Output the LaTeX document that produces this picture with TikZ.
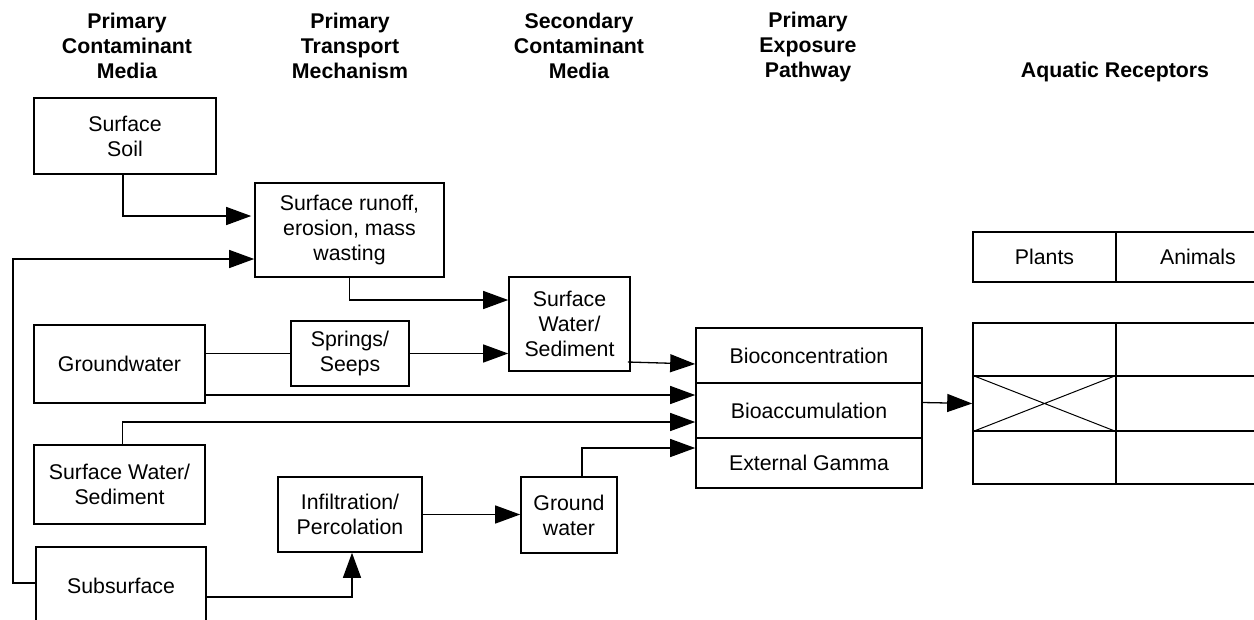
\documentclass[tikz,border=0pt]{standalone}
\usepackage{fontspec}
\setmainfont{Liberation Sans}
\usetikzlibrary{arrows.meta}
\begin{document}
\begin{tikzpicture}[x=1pt,y=-1pt,
  box/.style={draw, line width=1.6pt, align=center, inner sep=0pt,
    font=\fontsize{21.3}{25}\selectfont},
  hdr/.style={align=center, inner sep=0pt, font=\fontsize{21.3}{25}\selectfont\bfseries},
  link/.style={line width=1.3pt},
  arr/.style={link, -{Triangle[length=25pt,width=18pt]}},
  cell/.style={draw, line width=1.6pt, inner sep=0pt}]
\useasboundingbox (0,0) rectangle (1254,619);
\clip (0,0) rectangle (1254,619);

% column headings
\node[hdr] (h1) at (127,46) {Primary\\Contaminant\\Media};
\node[hdr] (h2) at (350,46) {Primary\\Transport\\Mechanism};
\node[hdr] (h3) at (579,46) {Secondary\\Contaminant\\Media};
\node[hdr] (h4) at (808,47) {Primary\\Exposure\\Pathway};
\node[hdr] (h5) at (1115,72) {Aquatic Receptors};

% primary contaminant media
\node[box, minimum width=182pt, minimum height=76pt] (soil) at (125,136) {Surface\\Soil};
\node[box, minimum width=171pt, minimum height=78pt] (gw) at (119.5,364) {Groundwater};
\node[box, minimum width=171pt, minimum height=79pt] (swsl) at (119.5,484.5) {Surface Water/\\Sediment};
\node[box, minimum width=170pt, minimum height=78pt] (sub) at (121,586) {Subsurface};

% transport mechanisms
\node[box, minimum width=189pt, minimum height=94pt] (runoff) at (349.5,230) {Surface runoff,\\erosion, mass\\wasting};
\node[box, minimum width=118pt, minimum height=65pt] (springs) at (350,353.5) {Springs/\\Seeps};
\node[box, minimum width=144pt, minimum height=75pt] (infil) at (350,514.5) {Infiltration/\\Percolation};

% secondary media
\node[box, minimum width=121pt, minimum height=94pt] (swsm) at (569.5,324) {Surface\\Water/\\Sediment};
\node[box, minimum width=96pt, minimum height=76pt] (gwater) at (569,515) {Ground\\water};

% exposure pathways
\node[box, minimum width=226pt, minimum height=55pt] (bioc) at (809,355.5) {Bioconcentration};
\node[box, minimum width=226pt, minimum height=55pt] (bioa) at (809,410.5) {Bioaccumulation};
\node[box, minimum width=226pt, minimum height=50pt] (ext) at (809,463) {External Gamma};

% receptor table
\node[box, minimum width=143pt, minimum height=50pt] (plants) at (1044.5,257) {Plants};
\node[box, minimum width=164pt, minimum height=50pt] (animals) at (1198,257) {Animals};
\node[cell, minimum width=143pt, minimum height=53pt] (c11) at (1044.5,349.5) {};
\node[cell, minimum width=143pt, minimum height=55pt] (c21) at (1044.5,403.5) {};
\node[cell, minimum width=143pt, minimum height=53pt] (c31) at (1044.5,457.5) {};
\node[cell, minimum width=164pt, minimum height=53pt] (c12) at (1198,349.5) {};
\node[cell, minimum width=164pt, minimum height=55pt] (c22) at (1198,403.5) {};
\node[cell, minimum width=164pt, minimum height=53pt] (c32) at (1198,457.5) {};
\draw[line width=1pt] (c21.north west) -- (c21.south east)
                      (c21.south west) -- (c21.north east);

% connectors
\coordinate (bus) at (13,259);
\draw[arr] ([xshift=-2pt]soil.south) |- ([xshift=-3pt,yshift=14pt]runoff.west);
\draw[arr] ([yshift=3pt]sub.west) -| (bus) -- ([yshift=-29pt]runoff.west);
\draw[arr] (runoff.south) |- ([yshift=24pt]swsm.west);
\draw[link] (springs.west -| gw.east) -- (springs.west);
\draw[arr] (springs.east) -- (springs.east -| swsm.west);
\draw[arr] ([yshift=-31pt]gw.east) -- ([yshift=-31pt]gw.east -| bioa.west);
\draw[arr] ([xshift=3pt]swsl.north) |- ([yshift=-11.5pt]bioa.west);
\draw[arr] ([yshift=-11pt]sub.east) -| ([xshift=2pt]infil.south);
\draw[arr] (infil.east) -- (infil.east -| gwater.west);
\draw[arr] ([xshift=13pt]gwater.north) |- ([yshift=15pt]ext.west);
\draw[arr] ([xshift=-3pt,yshift=-38pt]swsm.east) -- ([yshift=-8.5pt]bioc.west);
\draw[arr] ([yshift=8pt]bioa.east) -- (c21.west);
\end{tikzpicture}
\end{document}
